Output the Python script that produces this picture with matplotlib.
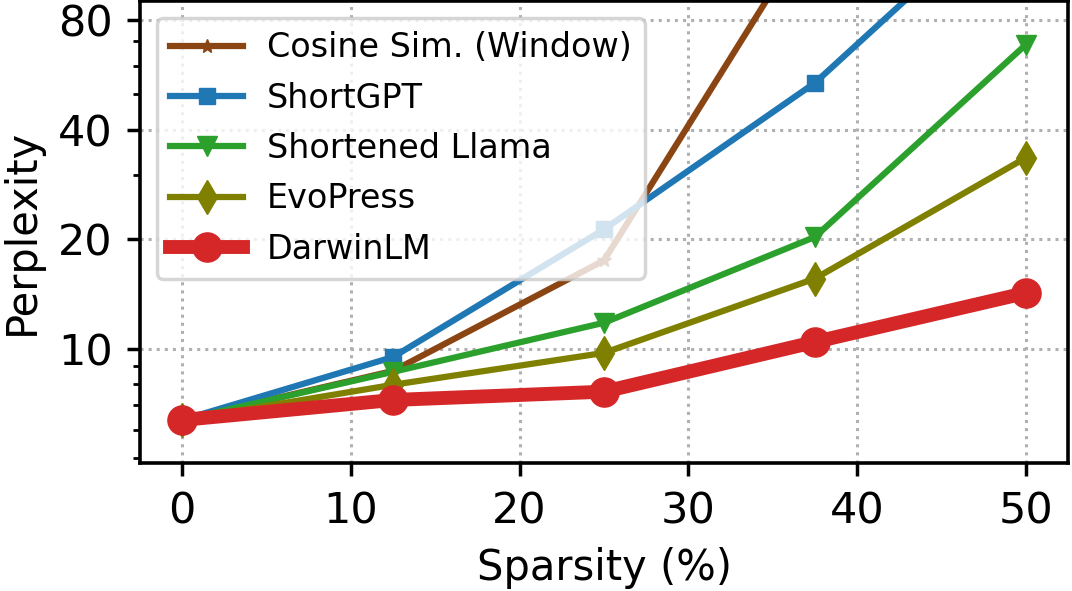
import matplotlib
matplotlib.use("Agg")
import matplotlib.pyplot as plt
from matplotlib.ticker import FixedLocator, NullFormatter

sparsity = [0, 12.5, 25, 37.5, 50]
cosine_window = [6.38, 8.7, 17.5, 148, 300]
shortgpt = [6.38, 9.5, 21.3, 53.8, 182]
shortened_llama = [6.38, 8.65, 11.8, 20.3, 68.5]
evopress = [6.38, 7.97, 9.75, 15.6, 33.5]
darwinlm = [6.38, 7.24, 7.63, 10.45, 14.25]

y_major = [10, 20, 40, 80]
y_minor = [5, 6, 7, 8, 9, 30, 50, 60, 70]
x_ticks = [0, 10, 20, 30, 40, 50]

fig = plt.figure(figsize=(10.72, 5.91), dpi=100)
ax = fig.add_axes([0.1306, 0.2166, 0.8657, 0.7809])

ax.plot(sparsity, cosine_window, color="#8B4513", marker="*", markersize=10, lw=4.5,
        label="Cosine Sim. (Window)")
ax.plot(sparsity, shortgpt, color="#1f77b4", marker="s", markersize=12, lw=4.5,
        label="ShortGPT")
ax.plot(sparsity, shortened_llama, color="#2ca02c", marker="v", markersize=14, lw=4.5,
        label="Shortened Llama")
ax.plot(sparsity, evopress, color="#808000", marker="d", markersize=17, lw=4.5,
        label="EvoPress")
ax.plot(sparsity, darwinlm, color="#d62728", marker="o", markersize=21, lw=10,
        label="DarwinLM")

ax.set_yscale("log")
ax.set_ylim(4.86, 90)
ax.set_xlim(-2.5, 52.5)
ax.yaxis.set_major_locator(FixedLocator(y_major))
ax.yaxis.set_minor_locator(FixedLocator(y_minor))
ax.yaxis.set_minor_formatter(NullFormatter())
ax.set_yticks(y_major)
ax.set_yticklabels([str(v) for v in y_major])
ax.set_xticks(x_ticks)

ax.tick_params(axis="both", which="major", labelsize=31, length=9.5, width=2.5, pad=10)
ax.tick_params(axis="y", which="minor", length=5, width=2)
for s in ax.spines.values():
    s.set_linewidth(2.6)

ax.grid(True, which="major", linestyle=":", color="#b0b0b0", linewidth=2.2)

ax.set_xlabel("Sparsity (%)", fontsize=30, labelpad=11)
ax.set_ylabel("Perplexity", fontsize=30, labelpad=11)

leg = ax.legend(loc="upper left", fontsize=24, framealpha=0.8, handlelength=2.2,
                borderpad=0.4, labelspacing=0.52, handletextpad=0.7,
                bbox_to_anchor=(0.0, 1.0))
leg.get_frame().set_linewidth(2.5)
leg.get_frame().set_edgecolor("#cccccc")

fig.savefig("out.png", dpi=100)
